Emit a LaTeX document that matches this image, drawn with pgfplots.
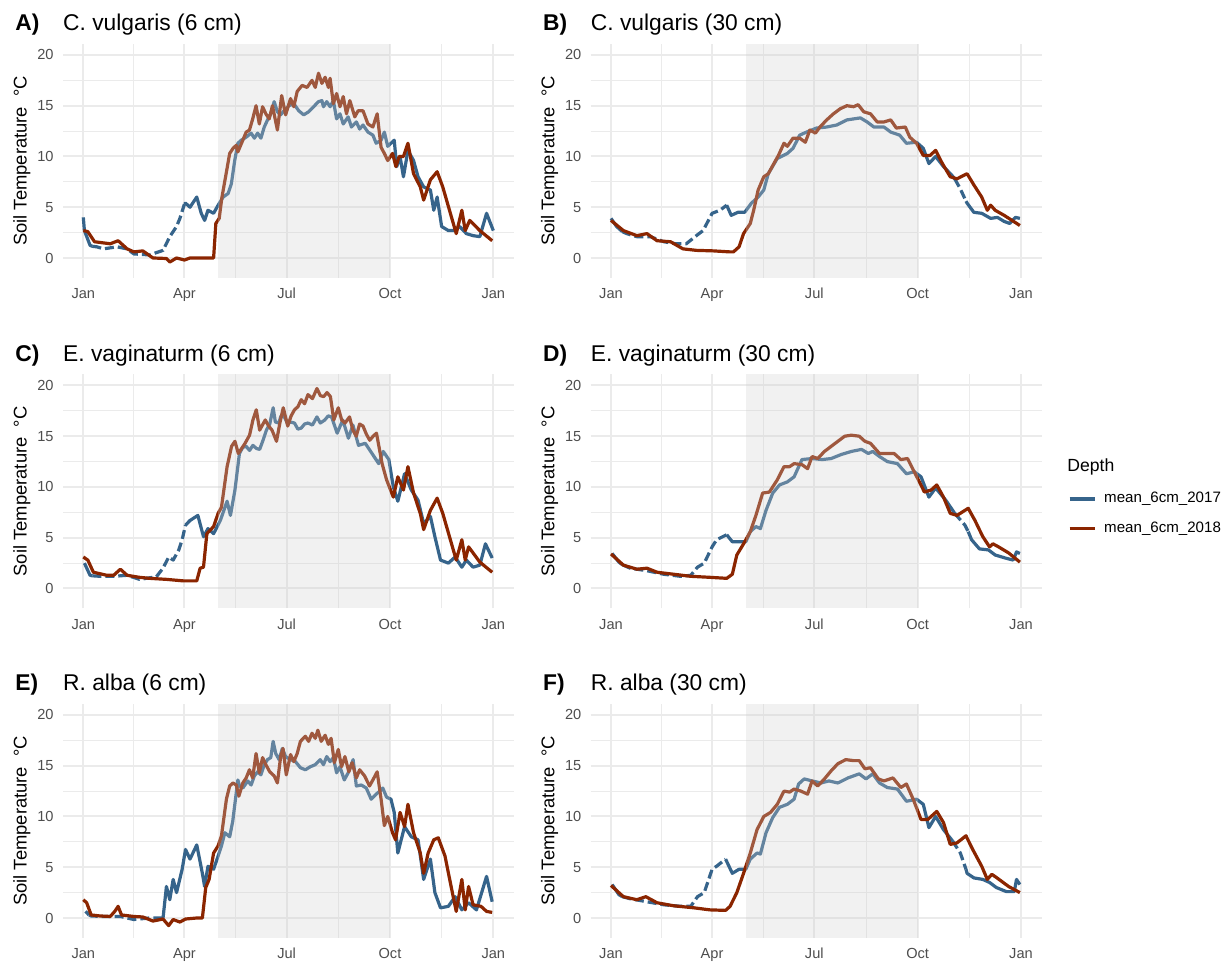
\documentclass[border=0pt]{standalone}
\usepackage{fontspec}
\setmainfont{Liberation Sans}
\usepackage{pgfplots}
\pgfplotsset{compat=1.18}
\definecolor{c17}{HTML}{36648B}
\definecolor{c18}{HTML}{8B2500}
\definecolor{gridc}{HTML}{EBEBEB}
\definecolor{tickc}{HTML}{4D4D4D}
\definecolor{shadec}{HTML}{D0D0D0}
\pgfplotsset{
  panel/.style={
    scale only axis, width=225.5pt, height=117pt, anchor=south west,
    xmin=-18.25, xmax=383.25, ymin=-1.97, ymax=21.08,
    axis line style={draw=none}, major tick length=0pt, minor tick length=0pt,
    xtick={0,90,181,273,365}, xticklabels={Jan,Apr,Jul,Oct,Jan},
    minor xtick={45,135.5,227,319},
    ytick={0,5,10,15,20}, minor ytick={2.5,7.5,12.5,17.5},
    grid=both,
    major grid style={gridc, line width=1pt},
    minor grid style={gridc, line width=0.5pt},
    /pgf/number format/assume math mode=true,
    tick label style={font=\fontsize{7.3}{9}\selectfont, text=tickc},
    yticklabel style={anchor=east, inner sep=0pt, xshift=-4.4pt},
    xticklabel style={anchor=base, inner sep=0pt, yshift=-10.5pt},
    ylabel={Soil Temperature\ \ °C},
    every axis y label/.style={at={(rel axis cs:-0.0905,0.5)}, rotate=90, anchor=center, font=\fontsize{9.2}{11}\selectfont},
    clip=false,
  },
  b17/.style={c17, line width=1.6pt, line join=round, forget plot},
  b17d/.style={b17, dash pattern=on 4.5pt off 2pt},
  r18/.style={c18, line width=1.6pt, line join=round, forget plot},
  shade/.style={draw=none, fill=shadec, fill opacity=0.3, forget plot},
}
\newcommand{\ptitle}[2]{%
  \node[anchor=base west, inner sep=0pt, font=\fontsize{11.4}{13}\selectfont\bfseries] at (rel axis cs:-0.106,1.057) {#1};
  \node[anchor=base west, inner sep=0pt, font=\fontsize{11.4}{13}\selectfont] at (rel axis cs:0,1.057) {#2};}
\newcommand{\shaderect}{\addplot[shade] coordinates {(120,-1.97) (273,-1.97) (273,21.08) (120,21.08)};}
\begin{document}
\begin{tikzpicture}
\useasboundingbox (0,0) rectangle (615pt,481pt);
% ---------------- A ----------------
\begin{axis}[panel, at={(31.4pt,342pt)}]
\addplot[b17] coordinates {(0,4.0)(1,2.7)(6,1.25)(8,1.15)};
\addplot[b17d] coordinates {(8,1.15)(12,1.1)(18,0.9)(30,1.1)(39,0.9)(45,0.4)(59,0.3)(71,0.75)(77,2.1)(83,3.1)(86,3.9)(90,5.3)};
\addplot[b17] coordinates {(90,5.3)(91,5.4)(95,5.0)(101,6.0)(105,4.4)(108,3.7)(111,4.7)(116,4.4)(120,5.2)(124.5,6.0)(128.9,6.35)(131.8,7.3)(134.8,9.6)(137.6,11.3)(140.6,11.6)(145,11.9)(149.4,12.3)(152.3,11.8)(155.2,12.3)(158.1,11.8)(161.1,12.9)(164,13.6)(166.9,14.2)(169.9,15.4)(172.8,14.4)(175.7,14.1)(178.7,14.5)(183.1,15.0)(187.4,15.2)(191.8,14.5)(196.2,14.1)(200.6,14.4)(205,14.9)(209.4,15.4)(212.4,15.5)(213.8,14.9)(216.7,15.4)(219.7,14.9)(222.6,15.5)(225.5,13.7)(228.5,14.2)(231.4,13.2)(235.8,13.9)(238.7,12.9)(243.1,13.4)(246,12.7)(249,13.1)(253.4,12.4)(257.8,12.1)(260.7,11.3)(265.1,11.6)(268,12.4)(271,11.0)(273.9,11.3)(276.8,11.6)(279,9.0)(282,10.0)(285,8.0)(289,10.6)(294,9.6)(298,8.0)(303,7.0)(309,6.7)(312,4.7)(315,6.0)(319,3.1)(325,2.7)(331,2.7)(335,3.1)(341,2.4)(347,2.2)(353,2.1)(359,4.4)(365,2.7)};
\addplot[r18] coordinates {(0,2.7)(4,2.6)(10,1.6)(24,1.4)(31,1.7)(39,0.9)(45,0.6)(53,0.7)(62,0.0)(74,-0.05)(77,-0.4)(83,0.0)(90,-0.2)(95,0.0)(116,0.0)(118,3.4)(121,3.9)(123.3,5.9)(127.7,8.65)(130.3,10.3)(133.3,10.8)(136.2,11.1)(137.6,10.45)(142,11.6)(145,12.4)(147.9,12.6)(150.8,13.7)(153.8,15.0)(156.7,13.2)(159.6,14.9)(162.5,14.2)(165.5,13.7)(168.4,15.0)(172.8,12.6)(176.6,16.0)(180.1,14.1)(184.5,15.7)(187.4,14.9)(190.4,16.4)(194.8,17.0)(199.2,16.8)(203.6,17.5)(206.5,16.8)(209.4,18.2)(212.4,17.2)(215.3,17.8)(218.2,16.8)(219.7,17.7)(222.6,15.2)(225.5,16.2)(228.5,14.9)(231.4,15.9)(234.3,14.2)(237.3,15.5)(241.7,13.9)(244.6,14.5)(249,14.5)(253.4,13.2)(257.8,12.9)(261.6,14.2)(265.1,10.9)(268,10.3)(271,9.6)(275.3,10.3)(278.3,9.0)(281.2,10.0)(285,10.0)(289,11.3)(294,8.3)(300,7.0)(303,5.7)(309,7.7)(315,8.5)(320,7.0)(326,4.7)(332,2.4)(337,4.7)(340,2.7)(344,3.7)(353,2.7)(364,1.7)};
\shaderect
\ptitle{A)}{C. vulgaris (6 cm)}
\end{axis}
% ---------------- B ----------------
\begin{axis}[panel, at={(295.25pt,342pt)}]
\addplot[b17] coordinates {(0,3.9)(5,3.1)(10,2.6)};
\addplot[b17d] coordinates {(10,2.6)(14,2.4)(23,2.1)(35,2.1)(47,1.6)(58,1.4)(67,1.4)(76,2.2)(82,2.7)(90,4.4)(97,4.7)(103,5.2)};
\addplot[b17] coordinates {(103,5.2)(107,4.2)(113,4.5)(119,4.5)(125,5.4)(131,6.0)(136,6.7)(140,8.3)(148,9.8)(157,10.3)(162,10.8)(168,12.1)(174,12.4)(183,12.8)(192,12.9)(201,13.1)(210,13.6)(222,13.8)(228,13.4)(234,12.9)(243,12.9)(249,12.4)(257,12.1)(263,11.3)(272,11.4)(278,10.8)(283,9.3)(289,10.0)(296,9.0)(303,8.2)(306,7.8)};
\addplot[b17d] coordinates {(306,7.8)(311,6.8)(316,5.6)};
\addplot[b17] coordinates {(316,5.6)(317,5.4)(323,4.5)(330,4.4)(338,3.9)(344,4.0)(350,3.6)(355,3.4)(360,4.0)(364,3.9)};
\addplot[r18] coordinates {(0,3.7)(11,2.7)(23,2.2)(32,2.4)(41,1.7)(53,1.6)(64,0.9)(76,0.75)(91,0.7)(106,0.6)(109,0.6)(114,1.1)(118,2.4)(124,3.4)(127,4.7)(131,6.7)(136,8.0)(140,8.3)(145,9.3)(149,10.1)(154,11.3)(157,11.0)(162,11.8)(168,11.8)(173,11.4)(177,12.6)(182,12.3)(186,12.9)(192,13.6)(198,14.2)(204,14.7)(210,15.0)(216,14.9)(220,15.1)(225,14.4)(231,14.2)(237,13.4)(243,13.4)(249,13.6)(254,12.8)(262,12.9)(266,11.9)(272,11.3)(278,10.1)(284,10.1)(289,10.6)(295,9.3)(302,8.0)(308,7.8)(317,8.3)(323,7.2)(330,6.0)(335,4.7)(338,5.2)(342,4.7)(350,4.2)(357,3.7)(364,3.2)};
\shaderect
\ptitle{B)}{C. vulgaris (30 cm)}
\end{axis}
% ---------------- C ----------------
\begin{axis}[panel, at={(31.4pt,176.75pt)}]
\addplot[b17] coordinates {(1,2.5)(6,1.3)(8,1.25)};
\addplot[b17d] coordinates {(8,1.25)(15,1.2)(27,1.2)(39,1.3)(50,0.9)(65,1.15)(71,2.0)(76,3.1)(80,2.8)(85,3.8)(88,4.8)(91,6.25)};
\addplot[b17] coordinates {(91,6.25)(95,6.7)(102,7.2)(107,5.1)(111,5.9)(116,5.4)(122,6.7)(128,8.6)(131,7.2)(135,9.7)(139,13.3)(142,13.9)(145,14.0)(148,13.6)(151,14.1)(154,13.8)(157,13.7)(160,14.6)(163,15.6)(166,16.2)(169,17.8)(171,16.4)(174,16.3)(176,17.0)(179,16.9)(182,16.2)(184,16.4)(188,16.3)(191,15.7)(194,15.8)(197,16.2)(200,16.3)(204,16.1)(208,16.9)(211,16.3)(215,16.6)(218,17.0)(221,16.9)(226,15.3)(231,16.6)(236,14.8)(240,16.1)(245,14.1)(251,14.3)(257,13.3)(263,12.3)(267,13.5)(272,12.7)(276,10.0)(280,8.6)(286,11.3)(292,9.7)(298,8.7)(303,6.4)(309,7.1)(313,5.1)(318,2.8)(325,2.5)(331,3.1)(337,2.1)(341,2.8)(347,2.1)(353,2.3)(358,4.4)(364,3.0)};
\addplot[r18] coordinates {(0,3.1)(4,2.8)(9,1.6)(21,1.3)(27,1.3)(33,1.9)(39,1.3)(50,1.1)(59,1.0)(74,0.9)(89,0.75)(101,0.75)(104,2.0)(107,2.1)(110,5.4)(116,6.1)(120,7.4)(123,8.0)(128,12.0)(132,14.0)(135,14.5)(138,13.3)(144,14.3)(148,15.1)(151,16.6)(154,17.6)(157,15.6)(162,16.6)(165,16.0)(168,15.6)(172,14.5)(175,16.3)(178,17.8)(182,16.0)(185,17.0)(188,17.6)(191,17.9)(194,18.6)(197,18.2)(200,19.1)(204,18.7)(208,19.7)(211,19.0)(214,18.9)(217,19.3)(220,18.9)(223,16.6)(227,17.8)(230,16.6)(233,16.3)(237,16.9)(240,15.6)(243,15.0)(246,16.2)(249,16.0)(252,15.2)(255,14.6)(258,15.0)(261,15.3)(266,12.3)(270,10.7)(276,9.0)(280,11.0)(285,9.7)(289,12.0)(294,9.4)(300,7.4)(303,5.8)(309,7.7)(315,8.9)(320,7.4)(326,5.1)(332,2.8)(337,4.8)(340,2.8)(343,4.1)(353,2.6)(364,1.6)};
\shaderect
\ptitle{C)}{E. vaginaturm (6 cm)}
\end{axis}
% ---------------- D ----------------
\begin{axis}[panel, at={(295.25pt,176.75pt)},
  legend style={draw=none, fill=none, inner sep=0pt, outer sep=0pt,
    at={(1.0588,0.4979)}, anchor=north west, row sep=7.85pt,
    nodes={inner sep=0pt, text height=5.5pt, text depth=1.5pt, font=\fontsize{7.55}{9}\selectfont},
    /tikz/every odd column/.append style={column sep=4pt}},
  legend image code/.code={\draw[#1, line width=1.6pt] (0pt,0pt) -- (12.5pt,0pt);}]
\addlegendimage{c17}
\addlegendentry{mean\_6cm\_2017}
\addlegendimage{c18}
\addlegendentry{mean\_6cm\_2018}
\addplot[b17] coordinates {(1,3.45)(7,2.6)(10,2.35)};
\addplot[b17d] coordinates {(10,2.35)(17,2.0)(32,1.75)(47,1.4)(62,1.2)(71,1.3)(77,2.1)(83,2.5)(90,4.1)(94,4.8)(103,5.3)};
\addplot[b17] coordinates {(103,5.3)(108,4.6)(114,4.6)(120,4.6)(124,5.6)(129,6.1)(133,5.9)(138,7.7)(144,9.4)(150,10.2)(157,10.5)(163,11.0)(170,12.7)(179,12.8)(188,12.7)(196,12.8)(205,13.2)(214,13.5)(223,13.7)(229,13.3)(233,13.5)(239,13.0)(246,12.5)(255,12.3)(263,11.3)(270,11.5)(276,11.0)(283,9.0)(289,9.9)(298,8.7)(306,7.4)};
\addplot[b17d] coordinates {(306,7.4)(315,6.25)(318,5.6)};
\addplot[b17] coordinates {(318,5.6)(321,4.8)(328,3.9)(336,3.8)(342,3.3)(351,3.0)(358,2.8)(361,3.6)(364,3.45)};
\addplot[r18] coordinates {(0,3.4)(11,2.3)(23,1.9)(32,2.0)(41,1.6)(56,1.4)(71,1.2)(88,1.1)(103,1.0)(108,1.4)(112,3.3)(118,4.4)(124,5.6)(129,7.2)(135,9.4)(141,9.5)(148,10.7)(154,12.0)(159,12.0)(163,12.3)(170,12.2)(175,11.8)(179,13.0)(184,12.8)(190,13.5)(196,14.0)(202,14.5)(208,15.0)(214,15.1)(221,15.0)(226,14.5)(231,14.3)(239,13.3)(245,13.3)(252,13.3)(258,12.7)(264,12.8)(269,11.7)(275,10.4)(279,9.5)(285,9.7)(290,10.2)(296,9.0)(302,7.4)(308,7.2)(318,7.9)(324,6.7)(331,5.1)(337,4.1)(340,4.4)(345,4.1)(354,3.5)(364,2.6)};
\shaderect
\ptitle{D)}{E. vaginaturm (30 cm)}
\node[anchor=base west, inner sep=0pt, font=\fontsize{8.8}{10}\selectfont] at (rel axis cs:1.0566,0.5846) {Depth};
\end{axis}
% ---------------- E ----------------
\begin{axis}[panel, at={(31.4pt,12pt)}]
\addplot[b17] coordinates {(2,0.65)(5,0.3)};
\addplot[b17d] coordinates {(5,0.3)(7,0.2)(18,0.15)(33,0.15)(45,-0.15)(59,0.0)(71,0.0)};
\addplot[b17] coordinates {(71,0.0)(74,3.1)(77,1.8)(80,3.8)(83,2.5)(88,4.8)(91,6.75)(95,5.8)(101,7.2)(106,4.4)(108,3.1)(111,5.1)(116,4.8)(120,6.1)(123,7.1)(126,8.4)(130.3,8.0)(133,9.5)(137.6,13.6)(139.1,13.0)(142,12.8)(146.4,13.5)(149.4,13.1)(152.3,14.0)(155.2,14.4)(158.1,14.1)(161.1,15.1)(164,15.6)(166.9,15.8)(169,17.4)(171.3,16.2)(174.3,15.6)(177.2,16.7)(180.1,15.9)(184.5,15.6)(188.9,15.4)(193.3,14.8)(197.7,14.6)(202.1,14.9)(206.5,15.1)(210.9,15.6)(213.8,15.1)(216.7,15.9)(219.7,15.4)(222.6,15.8)(225.5,14.3)(228.5,14.9)(232.3,13.6)(235.8,14.3)(240.2,15.6)(243.1,13.0)(247.5,13.1)(251.9,12.8)(256.3,11.7)(260.7,12.2)(265.1,12.6)(266.6,12.8)(270,11.9)(273.9,11.7)(276.8,10.4)(280,6.4)(286,9.0)(292,8.0)(298,7.7)(303,3.8)(309,5.8)(313,2.5)(318,1.0)(325,1.15)(331,2.1)(337,0.8)(343,1.5)(350,0.8)(359,4.1)(364,1.6)};
\addplot[r18] coordinates {(0,1.8)(3,1.5)(7,0.3)(15,0.2)(24,0.15)(28,0.65)(31,1.15)(34,0.3)(45,0.15)(53,0.1)(62,-0.3)(71,-0.1)(76,-0.75)(80,-0.15)(86,-0.4)(91,-0.1)(101,0.0)(106,0.0)(109,3.0)(112,3.8)(116,6.4)(120,7.1)(123,8.1)(127.4,11.7)(130.3,13.0)(133.2,13.3)(136.2,13.1)(138.5,12.0)(142,13.3)(145,13.8)(147.9,14.6)(150.8,13.8)(153.8,16.2)(156.7,14.3)(159.6,15.8)(162.5,15.1)(166,14.4)(169.9,14.0)(172.8,13.3)(175.7,15.9)(177.8,16.7)(180.7,14.1)(184.5,16.1)(187.4,15.4)(190.4,16.2)(193.3,17.4)(197.7,17.9)(200.6,17.4)(203.6,18.2)(206.5,17.7)(208.8,18.5)(211.8,17.4)(215.3,18.0)(218.2,17.1)(220.6,17.7)(223.5,15.3)(227,16.6)(229.9,14.9)(232.9,15.9)(236.4,14.4)(239.3,15.3)(243.1,13.8)(246,14.6)(250.4,14.0)(254.8,13.0)(257.8,13.6)(261.6,14.4)(265.1,11.7)(268,9.1)(271,10.0)(275.3,8.4)(278,7.7)(282,10.4)(286,9.0)(289,11.2)(294,8.4)(300,6.4)(303,4.4)(307,6.4)(312,7.7)(316,7.9)(322,6.1)(328,2.8)(332,0.65)(337,3.8)(340,0.8)(343,3.1)(347,1.3)(354,1.15)(359,0.65)(364,0.55)};
\shaderect
\ptitle{E)}{R. alba (6 cm)}
\end{axis}
% ---------------- F ----------------
\begin{axis}[panel, at={(295.25pt,12pt)}]
\addplot[b17] coordinates {(1,3.3)(7,2.3)(10,2.1)};
\addplot[b17d] coordinates {(10,2.1)(17,1.9)(32,1.6)(47,1.3)(62,1.15)(71,1.15)(77,2.1)(83,2.5)(90,4.8)(94,5.1)(102,5.8)};
\addplot[b17] coordinates {(102,5.8)(108,4.4)(114,4.8)(120,4.8)(124,5.8)(130,6.4)(133,6.3)(138,8.4)(144,9.9)(150,10.9)(157,11.2)(163,11.7)(167,13.2)(172,13.7)(179,13.5)(187,13.3)(194,13.5)(202,13.3)(211,13.8)(221,14.2)(227,13.7)(233,14.2)(239,13.3)(246,12.85)(255,12.7)(263,11.5)(272,11.7)(278,11.2)(283,8.9)(289,10.0)(296,8.7)(304,7.6)};
\addplot[b17d] coordinates {(304,7.6)(311,6.4)(316,4.8)};
\addplot[b17] coordinates {(316,4.8)(317,4.4)(323,3.95)(331,3.8)(337,3.5)(343,3.0)(352,2.6)(359,2.6)(361,3.8)(364,3.3)};
\addplot[r18] coordinates {(0,3.2)(11,2.1)(23,1.8)(31,2.1)(41,1.5)(56,1.2)(74,1.0)(88,0.8)(102,0.75)(106,1.15)(112,2.5)(118,4.4)(124,6.4)(130,8.7)(136,10.0)(142,10.4)(148,11.2)(154,12.5)(159,12.4)(163,12.7)(169,12.5)(175,12.2)(179,13.5)(184,13.0)(190,13.7)(196,14.5)(202,15.2)(209,15.6)(216,15.5)(221,15.5)(226,14.7)(231,14.8)(238,13.7)(243,13.5)(251,13.8)(258,12.85)(263,13.2)(269,11.7)(276,9.7)(282,9.7)(290,10.5)(296,9.4)(302,7.25)(308,7.4)(316,8.1)(322,6.75)(330,5.1)(335,3.8)(339,4.3)(343,4.0)(354,3.1)(364,2.5)};
\shaderect
\ptitle{F)}{R. alba (30 cm)}
\end{axis}
\end{tikzpicture}
\end{document}
